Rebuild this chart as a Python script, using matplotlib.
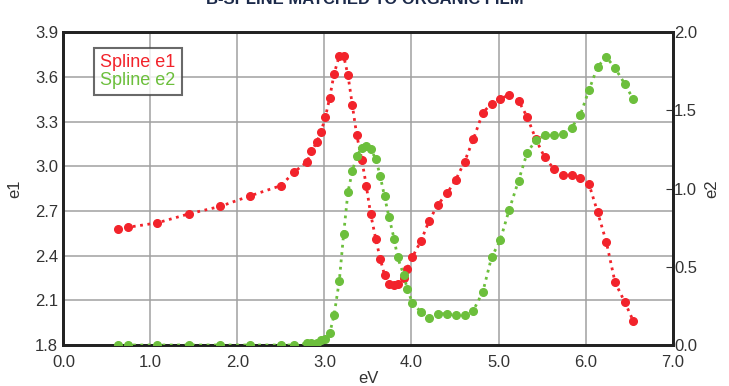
import matplotlib
matplotlib.use("Agg")
import matplotlib.pyplot as plt

plt.rcParams['font.family'] = ['Liberation Sans', 'DejaVu Sans']

ev = [0.63, 0.74, 1.08, 1.44, 1.80, 2.14, 2.50, 2.65, 2.80, 2.85, 2.91, 2.96, 3.01, 3.06,
      3.11, 3.17, 3.22, 3.27, 3.32, 3.37, 3.43, 3.48, 3.53, 3.59, 3.64, 3.69, 3.74, 3.80,
      3.84, 3.91, 3.95, 4.01, 4.11, 4.20, 4.30, 4.41, 4.51, 4.61, 4.71, 4.82, 4.92, 5.02,
      5.12, 5.23, 5.33, 5.43, 5.53, 5.64, 5.74, 5.84, 5.94, 6.04, 6.14, 6.24, 6.34, 6.45, 6.55]

e1 = [2.58, 2.59, 2.62, 2.68, 2.73, 2.80, 2.87, 2.96, 3.03, 3.10, 3.16, 3.23, 3.33, 3.46,
      3.62, 3.74, 3.74, 3.61, 3.41, 3.21, 3.04, 2.87, 2.68, 2.51, 2.38, 2.27, 2.21, 2.20,
      2.21, 2.25, 2.31, 2.39, 2.50, 2.63, 2.74, 2.82, 2.91, 3.03, 3.18, 3.36, 3.42, 3.45,
      3.48, 3.44, 3.33, 3.18, 3.06, 2.98, 2.94, 2.94, 2.92, 2.88, 2.69, 2.49, 2.22, 2.09, 1.96]

e2 = [0.0, 0.0, 0.0, 0.0, 0.0, 0.0, 0.0, 0.0, 0.01, 0.015, 0.015, 0.03, 0.04, 0.075,
      0.19, 0.41, 0.71, 0.98, 1.11, 1.21, 1.26, 1.27, 1.25, 1.19, 1.08, 0.95, 0.82, 0.68,
      0.56, 0.45, 0.36, 0.27, 0.21, 0.17, 0.20, 0.20, 0.19, 0.19, 0.22, 0.34, 0.56, 0.67,
      0.86, 1.05, 1.23, 1.31, 1.34, 1.34, 1.35, 1.39, 1.47, 1.63, 1.78, 1.84, 1.77, 1.67, 1.57]

x_ticks = [0.0, 1.0, 2.0, 3.0, 4.0, 5.0, 6.0, 7.0]
e1_ticks = [1.8, 2.1, 2.4, 2.7, 3.0, 3.3, 3.6, 3.9]
e2_ticks = [0.0, 0.5, 1.0, 1.5, 2.0]

RED = '#f2232b'
GREEN = '#6cbf3c'

fig = plt.figure(figsize=(7.29, 3.86), dpi=100)
ax = fig.add_axes([0.0871, 0.1062, 0.8354, 0.8106])
ax2 = ax.twinx()

l1, = ax.plot(ev, e1, color=RED, linestyle=':', linewidth=2, marker='o', markersize=5.5,
              label='Spline e1', zorder=3)
l2, = ax2.plot(ev, e2, color=GREEN, linestyle=':', linewidth=2, marker='o', markersize=5.5,
               label='Spline e2', zorder=3)

ax.set_xlim(0, 7)
ax.set_ylim(1.8, 3.9)
ax2.set_ylim(0, 2.0)
ax.set_xticks(x_ticks)
ax.set_xticklabels([f'{v:.1f}' for v in x_ticks])
ax.set_yticks(e1_ticks)
ax.set_yticklabels([f'{v:.1f}' for v in e1_ticks])
ax2.set_yticks(e2_ticks)
ax2.set_yticklabels([f'{v:.1f}' for v in e2_ticks])

ax.grid(True, color='#a0a0a0', linewidth=1.1)
ax.set_axisbelow(True)

for a in (ax, ax2):
    for s in a.spines.values():
        s.set_linewidth(2)
        s.set_color('#222222')
ax.tick_params(axis='x', direction='in', length=0, labelsize=12, pad=7, colors='#333333')
ax.tick_params(axis='y', direction='in', length=0, labelsize=12, pad=4, colors='#333333')
ax2.tick_params(axis='y', direction='in', length=5, labelsize=12, pad=1, colors='#333333')

ax.set_xlabel('eV', fontsize=12, color='#333333', labelpad=1)
ax.set_ylabel('e1', fontsize=12, color='#333333', labelpad=9)
ax2.set_ylabel('e2', fontsize=12, color='#333333', labelpad=5)

leg = ax2.legend(handles=[l1, l2], loc='upper left', bbox_to_anchor=(0.05, 0.95),
                 borderaxespad=0, handlelength=0, handletextpad=0, fontsize=13,
                 frameon=True, fancybox=False, borderpad=0.35, labelspacing=0.05)
leg.get_frame().set_edgecolor('#444444')
leg.get_frame().set_linewidth(1.5)
for txt, c in zip(leg.get_texts(), [RED, GREEN]):
    txt.set_color(c)
for h in leg.legend_handles:
    h.set_visible(False)

fig.text(0.5, 1.0, 'B-SPLINE MATCHED TO ORGANIC FILM', ha='center', va='center',
         fontsize=12, fontweight='bold', color='#1c2a4a')

fig.savefig('out.png', dpi=100)
